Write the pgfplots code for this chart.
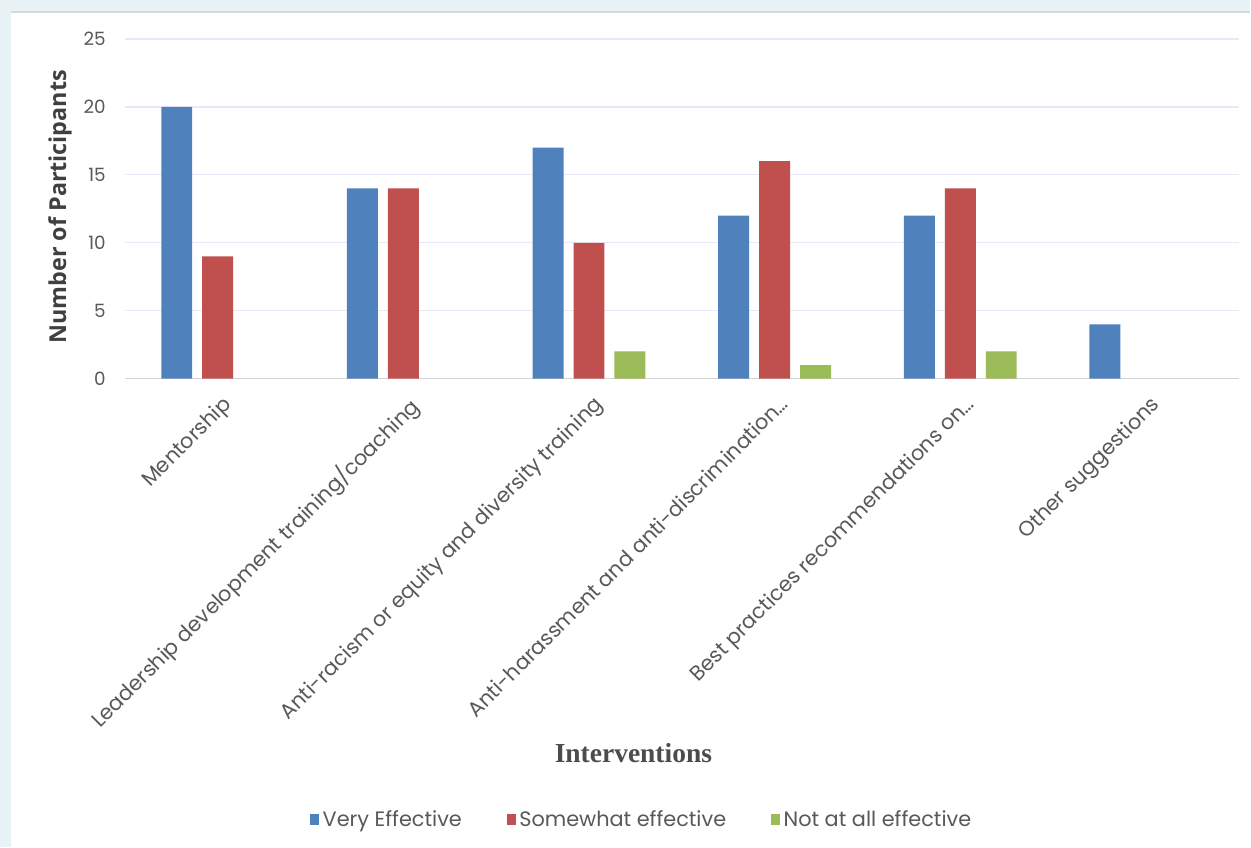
\documentclass[border=0pt]{standalone}
\usepackage{pgfplots}
\pgfplotsset{compat=1.18}
\usepackage{fontspec}
\setmainfont{Poppins}
\newfontfamily\ylabfont{Open Sans}
\newfontfamily\xlabfont{Liberation Serif}
\definecolor{bgout}{HTML}{E9F2F4}
\definecolor{topline}{HTML}{D5DADA}
\definecolor{cblue}{HTML}{4F81BD}
\definecolor{cred}{HTML}{C0504D}
\definecolor{cgreen}{HTML}{9BBB59}
\definecolor{gridc}{HTML}{E8E8F8}
\definecolor{txt}{HTML}{595959}
\begin{document}
\begin{tikzpicture}[x=0.6pt,y=0.6pt]
\fill[bgout] (0,0) rectangle (1251,848);
\fill[white] (11,0) rectangle (1251,836);
\draw[topline,line width=1.5pt] (11,836) -- (1251,836);
\useasboundingbox (0,0) rectangle (1251,848);
\begin{axis}[
  at={(75pt,281.4pt)}, anchor=south west,
  scale only axis, width=669pt, height=204pt,
  xmin=-0.5, xmax=5.5, ymin=0, ymax=25,
  ytick={0,5,...,25},
  xtick={0,...,5},
  /pgf/number format/assume math mode=true,
  xticklabels={Mentorship, Leadership development training/coaching, Anti-racism or equity and diversity training, Anti-harassment and anti-discrimination\ldots, Best practices recommendations on\ldots, Other suggestions},
  x tick label style={rotate=45, anchor=north east, font=\fontsize{12.5pt}{14pt}\selectfont, text=txt, inner sep=2pt, xshift=-3pt, yshift=-6pt},
  y tick label style={font=\fontsize{11pt}{12pt}\selectfont, text=txt, xshift=-8pt},
  major tick length=0pt,
  ymajorgrids, grid style={gridc, line width=0.8pt},
  axis lines*=left,
  y axis line style={draw=none},
  x axis line style={draw=gray!35, line width=0.8pt, -},
  ybar, bar width=18.6pt,
  legend style={at={(0.4646,-1.3)}, anchor=center, draw=none, fill=none,
    legend columns=3, font=\fontsize{12.5pt}{14pt}\selectfont, text=txt,
    /tikz/every even column/.append style={column sep=25pt},
    inner sep=0pt},
  legend image code/.code={\fill[#1] (0pt,-3pt) rectangle (5.5pt,4pt);},
]
\addplot[fill=cblue, draw=none, bar shift=-24.6pt] coordinates {(0,20)(1,14)(2,17)(3,12)(4,12)(5,4)};
\addplot[fill=cred, draw=none, bar shift=0pt] coordinates {(0,9)(1,14)(2,10)(3,16)(4,14)};
\addplot[fill=cgreen, draw=none, bar shift=24.6pt] coordinates {(2,2)(3,1)(4,2)};
\legend{Very Effective, Somewhat effective, Not at all effective}
\end{axis}
\node[rotate=90, text=black!75] at (60,641) {\ylabfont\bfseries\fontsize{14pt}{16pt}\selectfont Number of Participants};
\node[text=black!70] at (634,94) {\xlabfont\bfseries\fontsize{16.5pt}{18pt}\selectfont Interventions};
\end{tikzpicture}
\end{document}
